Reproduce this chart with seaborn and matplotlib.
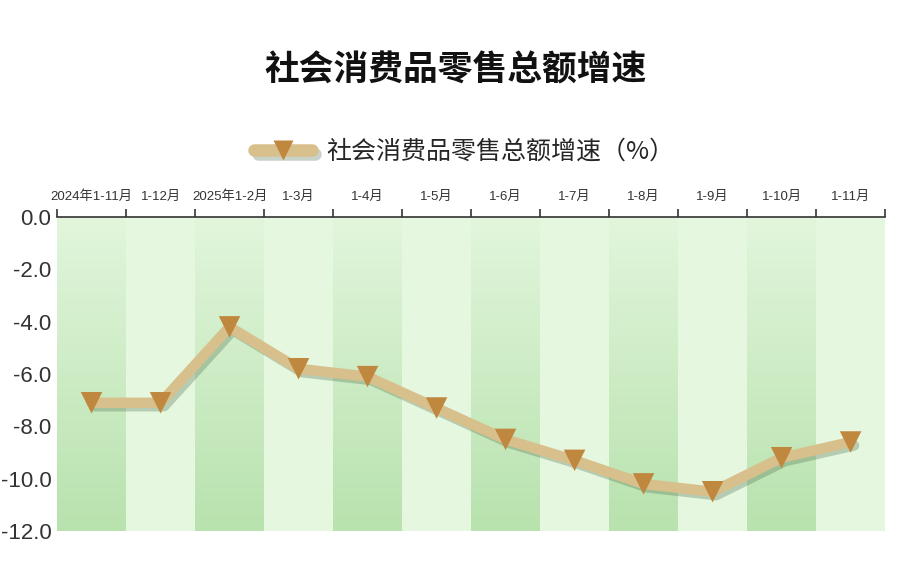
import numpy as np
import pandas as pd
import seaborn as sns
import matplotlib
matplotlib.use('Agg')
from matplotlib import pyplot as plt
from matplotlib import patheffects as pe
from matplotlib.lines import Line2D

periods = ["2024年1-11月", "1-12月", "2025年1-2月", "1-3月", "1-4月", "1-5月",
           "1-6月", "1-7月", "1-8月", "1-9月", "1-10月", "1-11月"]
growth = [-7.1, -7.1, -4.2, -5.8, -6.1, -7.3, -8.5, -9.3, -10.2, -10.5, -9.2, -8.6]
y_ticks = [0.0, -2.0, -4.0, -6.0, -8.0, -10.0, -12.0]
series_name = "社会消费品零售总额增速（%）"
title = "社会消费品零售总额增速"

sns.set_theme(style="white")
plt.rcParams['font.family'] = ['Liberation Sans', 'Noto Sans CJK SC', 'DejaVu Sans']

df = pd.DataFrame({"period": np.arange(len(periods)), "growth": growth})

fig = plt.figure(figsize=(9.11, 5.67), dpi=100)
ax = fig.add_axes([0.0626, 0.0635, 0.909, 0.5538])

# column backgrounds
light = "#e5f7df"
grad = np.linspace(0, 1, 256).reshape(-1, 1)
top_c = np.array([0xe2, 0xf6, 0xdc]) / 255
bot_c = np.array([0xb8, 0xe2, 0xae]) / 255
grad_img = top_c[None, None, :] * (1 - grad[..., None]) + bot_c[None, None, :] * grad[..., None]
for i in range(len(periods)):
    if i % 2 == 0:
        ax.imshow(grad_img, extent=(i - 0.5, i + 0.5, -12, 0), aspect='auto', zorder=0)
    else:
        ax.axvspan(i - 0.5, i + 0.5, color=light, lw=0, zorder=0)

line_col = "#d8c08c"
mark_col = "#c0883f"
shadow = [pe.SimpleLineShadow(offset=(2.5, -2.5), shadow_color="#4a6a4a", alpha=0.3),
          pe.Normal()]
sns.lineplot(data=df, x="period", y="growth", ax=ax, color=line_col, linewidth=7.5,
             zorder=3, path_effects=shadow)
sns.scatterplot(data=df, x="period", y="growth", ax=ax, marker="v", s=240,
                color=mark_col, edgecolor="none", zorder=4)

ax.set_xlim(-0.5, len(periods) - 0.5)
ax.set_ylim(-12, 0)
ax.set_xlabel("")
ax.set_ylabel("")

ax.xaxis.tick_top()
ax.set_xticks(range(len(periods)))
ax.set_xticklabels(periods, fontsize=9.5, color="#333333")
ax.tick_params(axis='x', which='major', length=0, pad=10)
ax.set_xticks(np.arange(-0.5, len(periods)), minor=True)
ax.tick_params(axis='x', which='minor', length=6, width=1.2, color="#333333",
               direction='out', top=True, bottom=False)

ax.set_yticks(y_ticks)
ax.set_yticklabels([f"{v:.1f}" for v in y_ticks], fontsize=16, color="#333333")
ax.tick_params(axis='y', length=0, pad=4)

for s in ["left", "right", "bottom"]:
    ax.spines[s].set_visible(False)
ax.spines["top"].set_color("#333333")
ax.spines["top"].set_linewidth(1.2)

fig.text(0.5, 0.877, title, ha='center', va='center', fontsize=25, fontweight='bold',
         family=['Noto Sans CJK SC', 'DejaVu Sans'], color="#111111")

h_line = Line2D([0], [0], color=line_col, linewidth=9, solid_capstyle='round',
                path_effects=shadow)
h_mark = Line2D([0], [0], linestyle='none', marker="v", markersize=15,
                markerfacecolor=mark_col, markeredgecolor="none")
fig.legend([(h_line, h_mark)], [series_name], loc='center', bbox_to_anchor=(0.510, 0.732),
           frameon=False, handlelength=2.3, handletextpad=0.6,
           prop={'family': ['Noto Sans CJK SC', 'DejaVu Sans'], 'size': 18})

fig.savefig("out.png", dpi=100)
